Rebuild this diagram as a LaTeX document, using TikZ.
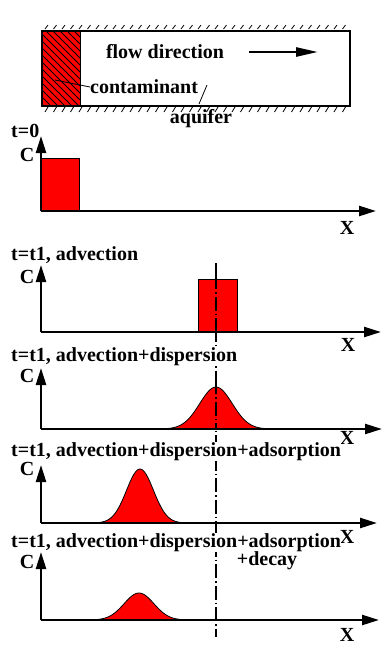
\documentclass[tikz,border=0pt]{standalone}
\usepackage{fontspec}
\setmainfont{Liberation Serif}
\usetikzlibrary{arrows.meta}
\begin{document}
\begin{tikzpicture}[x=1pt,y=-1pt,
  lbl/.style={font=\fontsize{20}{23}\selectfont\bfseries, inner sep=0pt},
  wlbl/.style={lbl, fill=white, inner ysep=0.5pt},
  axis/.style={line width=2.4pt, -{Triangle[length=17pt,width=10pt]}},
  redbar/.style={fill=red, draw=black, line width=0.6pt},
  bump/.style={fill=red, draw=black, line width=0.8pt},
  hatch/.style={line width=0.8pt},
  leader/.style={line width=0.8pt},
  centerline/.style={line width=1.1pt, dash pattern=on 14pt off 3pt on 1.5pt off 3pt}
]
\useasboundingbox (0,0) rectangle (390,646);

% ---------- aquifer box ----------
\fill[red] (42,31) rectangle (80,106);
\begin{scope}
  \clip (42,31) rectangle (80,106);
  \foreach \k in {-80,-73,...,40} \draw[line width=0.9pt] (42+\k,31) -- ++(80,80);
\end{scope}
\draw[line width=0.6pt] (80,31) -- (80,106);
\draw[line width=2.6pt] (42,31) rectangle (350,106);
\foreach \x in {45,53.5,...,346} \draw[hatch] (\x,29) -- ++(3,-4);
\foreach \x in {45,53.5,...,346} \draw[hatch] (\x,112) -- ++(3,-5);

\node[lbl] (flow) at (165,52) {flow direction};
\coordinate (fa) at (249,52);
\coordinate (fb) at (318,52);
\draw[line width=2.6pt, -{Triangle[length=22pt,width=9pt]}] (fa) -- (fb);

\node[lbl, anchor=west] (cont) at (90,87) {contaminant};
\coordinate (cp) at (55,80);
\draw[leader] (cp) -- (cont.west);

\node[lbl] (aq) at (201,119) {aquifer};
\coordinate (aqa) at (199,104);
\coordinate (aqb) at (207,85);
\draw[leader] (aqa) -- (aqb);

% ---------- center line ----------
\coordinate (cl1) at (216,263);
\coordinate (cl2) at (216,637);
\draw[centerline] (cl1) -- (cl2);

% ---------- plot 1: t=0 ----------
\node[lbl, anchor=base west] (l1) at (11,137) {t=0};
\coordinate (o1) at (41,211);
\coordinate (y1) at (41,136);
\coordinate (x1) at (376,211);
\draw[redbar] (41,158) rectangle (79,211);
\draw[axis] (o1) -- (y1);
\draw[axis] (o1) -- (x1);
\node[lbl] (c1) at (27,155) {C};
\node[lbl] (X1) at (347,228) {X};

% ---------- plot 2 ----------
\node[wlbl, anchor=base west] (l2) at (11,260) {t=t1, advection};
\coordinate (o2) at (41,332);
\coordinate (y2) at (41,265);
\coordinate (x2) at (381,332);
\draw[redbar] (198,279) rectangle (237,332);
\draw[centerline] (216,275) -- (216,332);
\draw[axis] (o2) -- (y2);
\draw[axis] (o2) -- (x2);
\node[lbl] (c2) at (27,277) {C};
\node[lbl] (X2) at (348,345) {X};

% ---------- plot 3 ----------
\node[wlbl, anchor=base west] (l3) at (11,361) {t=t1, advection+dispersion};
\coordinate (o3) at (41,429);
\coordinate (y3) at (41,368);
\coordinate (x3) at (382,429);
\draw[bump] plot[domain=166:266, samples=60, smooth] (\x,{429-42*exp(-((\x-216)/23)^2)}) -- cycle;
\draw[centerline] (216,380) -- (216,429);
\draw[axis] (o3) -- (y3);
\draw[axis] (o3) -- (x3);
\node[lbl] (c3) at (27,376) {C};
\node[lbl] (X3) at (347,438) {X};

% ---------- plot 4 ----------
\node[wlbl, anchor=base west] (l4) at (11,456) {t=t1, advection+dispersion+adsorption};
\coordinate (o4) at (41,523);
\coordinate (y4) at (41,465);
\coordinate (x4) at (377,523);
\draw[bump] plot[domain=98:184, samples=60, smooth] (\x,{523-54*exp(-((\x-140)/19)^2)}) -- cycle;
\draw[axis] (o4) -- (y4);
\draw[axis] (o4) -- (x4);
\node[lbl] (c4) at (27,469) {C};
\node[lbl] (X4) at (347,537) {X};

% ---------- plot 5 ----------
\node[wlbl, anchor=base west] (l5) at (11,547) {t=t1, advection+dispersion+adsorption};
\node[lbl] (l5b) at (267,561) {+decay};
\coordinate (o5) at (41,620);
\coordinate (y5) at (41,552);
\coordinate (x5) at (379,620);
\draw[bump] plot[domain=92:186, samples=60, smooth] (\x,{620-27*exp(-((\x-139)/21)^2)}) -- cycle;
\draw[axis] (o5) -- (y5);
\draw[axis] (o5) -- (x5);
\node[lbl] (c5) at (27,562) {C};
\node[lbl] (X5) at (347,635) {X};
\end{tikzpicture}
\end{document}
